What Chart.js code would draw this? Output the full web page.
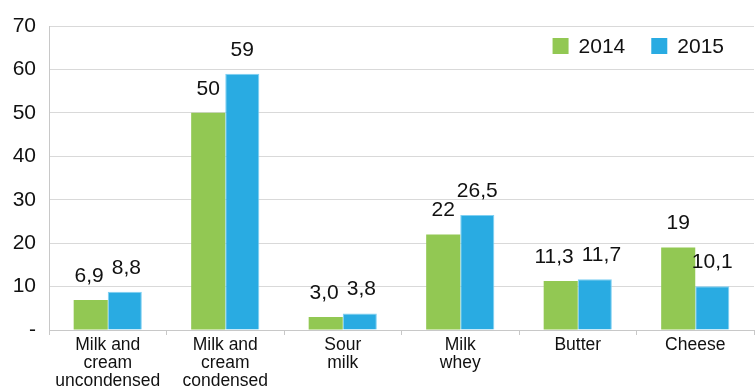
<html>
    <head>
        <style>
            body { margin: 0; background: #fff; }
        </style>
        <script src="https://cdn.jsdelivr.net/npm/chart.js"></script>
    </head>
    <body>
        <canvas id="chart" width="755" height="391"></canvas>
        <script>
            var categories = [
                ['Milk and', 'cream', 'uncondensed'],
                ['Milk and', 'cream', 'condensed'],
                ['Sour', 'milk'],
                ['Milk', 'whey'],
                'Butter',
                'Cheese'
            ];
            var values2014 = [6.9, 50, 3.0, 22, 11.3, 19];
            var values2015 = [8.8, 59, 3.8, 26.5, 11.7, 10.1];
            var labels2014 = ['6,9', '50', '3,0', '22', '11,3', '19'];
            var labels2015 = ['8,8', '59', '3,8', '26,5', '11,7', '10,1'];
            var yTicks = [0, 10, 20, 30, 40, 50, 60, 70];

            var fontName = '"Liberation Sans", Arial, sans-serif';

            // value labels above each bar, pushed apart when a pair would touch
            var barLabels = {
                id: 'barLabels',
                afterDatasetsDraw: function(chart) {
                    var ctx = chart.ctx;
                    ctx.save();
                    ctx.font = '21px ' + fontName;
                    ctx.fillStyle = '#111';
                    ctx.textAlign = 'center';
                    ctx.textBaseline = 'middle';
                    var left = chart.getDatasetMeta(0).data;
                    var right = chart.getDatasetMeta(1).data;
                    for (let j = 0; j < left.length; j++) {
                        var a = left[j], b = right[j];
                        var wa = ctx.measureText(labels2014[j]).width;
                        var wb = ctx.measureText(labels2015[j]).width;
                        var xa = a.x, xb = b.x;
                        var need = (wa + wb) / 2 + 8;
                        var ya = a.y - 24, yb = b.y - 24;
                        if (Math.abs(ya - yb) < 18 && xb - xa < need) {
                            var push = (need - (xb - xa)) / 2;
                            xa -= push;
                            xb += push;
                        }
                        ctx.fillText(labels2014[j], xa, ya);
                        ctx.fillText(labels2015[j], xb, yb);
                    }
                    ctx.restore();
                }
            };

            // legend drawn in the top right corner of the plot
            var cornerLegend = {
                id: 'cornerLegend',
                afterDraw: function(chart) {
                    var ctx = chart.ctx;
                    var area = chart.chartArea;
                    var sets = chart.data.datasets;
                    ctx.save();
                    ctx.font = '21px ' + fontName;
                    ctx.textBaseline = 'middle';
                    var total = 0;
                    sets.forEach(function(ds, i) {
                        total += 16 + 10 + ctx.measureText(ds.label).width;
                        if (i > 0) total += 26;
                    });
                    var x = area.right - 30 - total;
                    var y = area.top + 20;
                    sets.forEach(function(ds) {
                        ctx.fillStyle = ds.backgroundColor;
                        ctx.fillRect(x, y - 8, 16, 16);
                        x += 26;
                        ctx.fillStyle = '#111';
                        ctx.fillText(ds.label, x, y + 1);
                        x += ctx.measureText(ds.label).width + 26;
                    });
                    ctx.restore();
                }
            };

            var ctx = document.getElementById('chart').getContext('2d');
            var myChart = new Chart(ctx, {
                type: 'bar',
                data: {
                    labels: categories,
                    datasets: [{
                        label: '2014',
                        data: values2014,
                        backgroundColor: '#92c853'
                    }, {
                        label: '2015',
                        data: values2015,
                        backgroundColor: '#29abe2',
                        borderColor: '#7fd0f2',
                        borderWidth: 1
                    }]
                },
                plugins: [barLabels, cornerLegend],
                options: {
                    responsive: false,
                    animation: false,
                    layout: { padding: { top: 26, right: 1 } },
                    datasets: {
                        bar: { categoryPercentage: 0.58, barPercentage: 1.0 }
                    },
                    plugins: {
                        legend: { display: false },
                        tooltip: { enabled: false }
                    },
                    scales: {
                        x: {
                            grid: { display: true, drawOnChartArea: false, offset: true, color: '#c8c8c8', tickLength: 5 },
                            border: { color: '#c8c8c8' },
                            ticks: {
                                color: '#111',
                                padding: 1,
                                maxRotation: 0,
                                font: { family: fontName, size: 17.5, lineHeight: 1.03 }
                            },
                            afterFit: function(scale) { scale.height = 61; }
                        },
                        y: {
                            min: 0,
                            max: 70,
                            afterBuildTicks: function(scale) {
                                scale.ticks = yTicks.map(function(v) { return { value: v }; });
                            },
                            grid: { color: '#d9d9d9', drawTicks: false },
                            border: { color: '#c8c8c8' },
                            ticks: {
                                color: '#111',
                                padding: 13,
                                font: { family: fontName, size: 21 },
                                callback: function(v) { return v === 0 ? '-' : v; }
                            },
                            afterFit: function(scale) { scale.width = 49; }
                        }
                    }
                }
            });
        </script>
    </body>
</html>
